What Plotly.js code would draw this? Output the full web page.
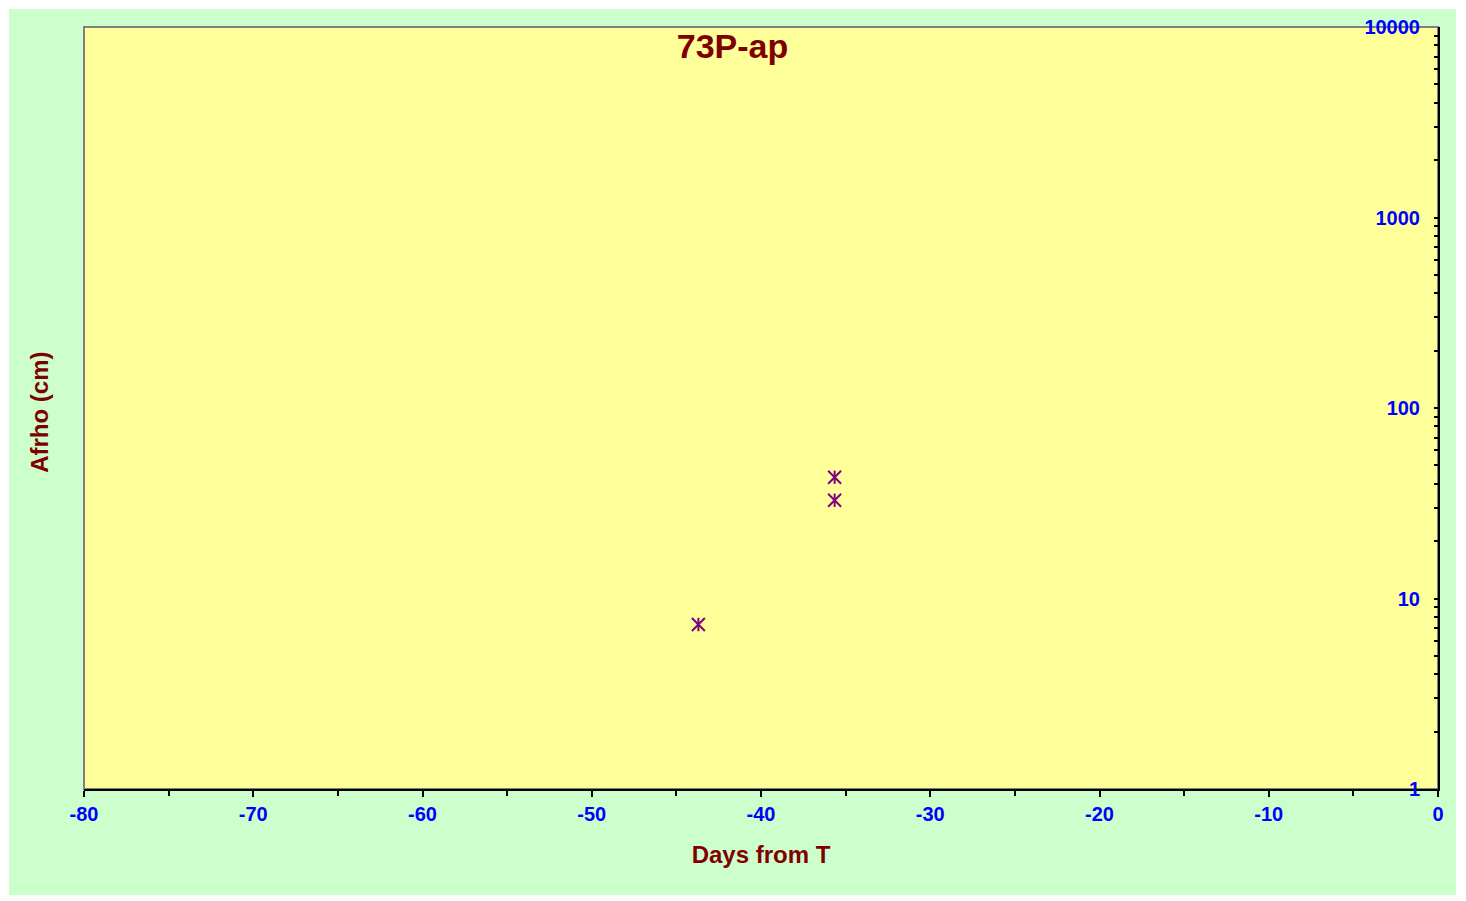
<!DOCTYPE html>
<html>
<head>
<meta charset="utf-8">
<script src="https://cdn.plot.ly/plotly-3.0.1.min.js"></script>
<style>
html,body{margin:0;padding:0;background:#ffffff;}
#chart{position:absolute;left:9px;top:9px;width:1447px;height:886px;}
</style>
</head>
<body>
<div id="chart"></div>
<script>
const days = [-43.7, -35.65, -35.65];
const afrho = [7.3, 43.3, 32.8];
const xTickVals = [-80, -70, -60, -50, -40, -30, -20, -10, 0];
const xTickText = ["-80", "-70", "-60", "-50", "-40", "-30", "-20", "-10", "0"];
const yTickVals = [1, 10, 100, 1000, 10000];
const yTickText = ["1", "10", "100", "1000", "10000"];
const chartTitle = "73P-ap";
const xTitle = "Days from T";
const yTitle = "Afrho (cm)";

const FONT = "Arial, 'Liberation Sans', sans-serif";
const markerColor = "#800080";

const traces = [
  {x: days, y: afrho, type: "scatter", mode: "markers", hoverinfo: "x+y",
   marker: {symbol: "x-thin-open", size: 13, color: markerColor, line: {color: markerColor, width: 2}}},
  {x: days, y: afrho, type: "scatter", mode: "markers", hoverinfo: "skip",
   marker: {symbol: "line-ns-open", size: 9.5, color: markerColor, line: {color: markerColor, width: 2}}}
];

const layout = {
  width: 1447, height: 886,
  paper_bgcolor: "#CCFFCC",
  plot_bgcolor: "#FFFF99",
  showlegend: false,
  margin: {l: 75, r: 18, t: 18, b: 106, pad: 0},
  title: {text: "<b>" + chartTitle + "</b>", font: {family: FONT, size: 34, color: "#800000"},
          x: 0.5, xref: "container", xanchor: "center", y: 0.958, yref: "container", yanchor: "middle"},
  xaxis: {
    range: [-80, 0],
    tickmode: "array", tickvals: xTickVals, ticktext: xTickText,
    showgrid: false, zeroline: false,
    showline: true, linecolor: "#000000", linewidth: 2,
    ticks: "outside", ticklen: 6, tickwidth: 1.5, tickcolor: "#000000",
    minor: {dtick: 5, tick0: 0, ticks: "outside", ticklen: 5, tickwidth: 1.5, tickcolor: "#000000", showgrid: false},
    tickfont: {family: FONT, size: 20, color: "#0000FF", weight: "bold"},
    ticklabelstandoff: 0,
    ticklabeloverflow: "allow",
    title: {text: "<b>" + xTitle + "</b>", font: {family: FONT, size: 24, color: "#800000"}, standoff: 22}
  },
  yaxis: {
    type: "log", range: [0, 4], side: "right",
    tickmode: "array", tickvals: yTickVals, ticktext: yTickText,
    showgrid: false, zeroline: false,
    showline: true, linecolor: "#000000", linewidth: 2,
    ticks: "inside", ticklen: 4, tickwidth: 1.5, tickcolor: "#000000",
    minor: {dtick: "D1", ticks: "inside", ticklen: 4, tickwidth: 1.5, tickcolor: "#000000", showgrid: false},
    ticklabelposition: "inside",
    ticklabeloverflow: "allow",
    ticklabelstandoff: 15,
    tickfont: {family: FONT, size: 20, color: "#0000FF", weight: "bold"}
  },
  shapes: [
    {type: "rect", xref: "paper", yref: "paper", x0: 0, x1: 1, y0: 0, y1: 1,
     line: {color: "#808080", width: 2}, layer: "below"}
  ],
  annotations: [
    {text: "<b>" + yTitle + "</b>", xref: "paper", yref: "paper", x: -0.0325, y: 0.495,
     xanchor: "center", yanchor: "middle", textangle: -90, showarrow: false,
     font: {family: FONT, size: 24, color: "#800000"}}
  ]
};

Plotly.newPlot("chart", traces, layout, {displayModeBar: false});
</script>
</body>
</html>
